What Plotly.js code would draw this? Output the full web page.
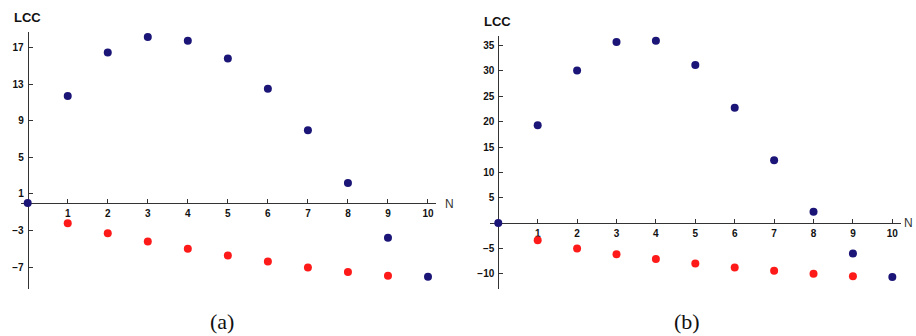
<!DOCTYPE html>
<html>
<head>
<meta charset="utf-8">
<script src="https://cdn.plot.ly/plotly-3.0.1.min.js"></script>
<style>
  html, body { margin: 0; padding: 0; background: #fff; }
  #chart { width: 916px; height: 336px; }
</style>
</head>
<body>
<div id="chart"></div>
<script>
// N values on the horizontal axis
const nAll = [0, 1, 2, 3, 4, 5, 6, 7, 8, 9, 10];
const nRed = [1, 2, 3, 4, 5, 6, 7, 8, 9];

// Panel (a) series
const blueA = [0, 11.7, 16.45, 18.15, 17.75, 15.8, 12.5, 7.95, 2.2, -3.8, -8.05];
const redA = [-2.2, -3.3, -4.2, -5.0, -5.75, -6.4, -7.05, -7.55, -7.95];

// Panel (b) series
const blueB = [0, 19.3, 30.1, 35.7, 35.95, 31.2, 22.75, 12.4, 2.25, -6.0, -10.65];
const redB = [-3.4, -5.0, -6.15, -7.1, -7.95, -8.75, -9.4, -10.0, -10.5];

// Tick labels
const xTicks = [1, 2, 3, 4, 5, 6, 7, 8, 9, 10];
const yTicksA = [17, 13, 9, 5, 1, -3, -7];
const yTicksB = [35, 30, 25, 20, 15, 10, 5, -5, -10];

const W = 916, H = 336;
const BLUE = '#1b1577';
const RED = '#ff1a1a';
const AXIS = '#333333';
const tickFont = { family: 'Liberation Sans, Arial, sans-serif', size: 10, color: '#111', weight: 'bold' };

function pts(x, y, color, xa, ya) {
  return {
    type: 'scatter', mode: 'markers', x: x, y: y, xaxis: xa, yaxis: ya,
    marker: { color: color, size: 8, line: { width: 0 } },
    cliponaxis: false, showlegend: false, hoverinfo: 'skip'
  };
}

// Horizontal axis drawn through y = 0 (posPx is its pixel row)
function xAxis(domain, range, posPx) {
  return {
    domain: domain, range: range, anchor: 'free', position: 1 - posPx / H,
    showgrid: false, zeroline: false, showline: true, linecolor: AXIS, linewidth: 1,
    tickmode: 'array', tickvals: xTicks, ticks: 'inside', ticklen: 4, tickcolor: AXIS, tickwidth: 1,
    tickfont: tickFont, ticklabelstandoff: 1, layer: 'below traces', fixedrange: true
  };
}

// Vertical axis drawn through x = 0 (posPx is its pixel column)
function yAxis(domain, range, posPx, ticks) {
  return {
    domain: domain, range: range, anchor: 'free', position: posPx / W,
    showgrid: false, zeroline: false, showline: true, linecolor: AXIS, linewidth: 1,
    tickmode: 'array', tickvals: ticks, ticks: 'inside', ticklen: 4, tickcolor: AXIS, tickwidth: 1,
    tickfont: tickFont, ticklabelstandoff: 2, layer: 'below traces', fixedrange: true
  };
}

const data = [
  pts(nRed, redA, RED, 'x', 'y'),
  pts(nAll, blueA, BLUE, 'x', 'y'),
  pts(nRed, redB, RED, 'x2', 'y2'),
  pts(nAll, blueB, BLUE, 'x2', 'y2')
];

const labelFont = { family: 'Liberation Sans, Arial, sans-serif', size: 13, color: '#111', weight: 'bold' };
const nFont = { family: 'Liberation Sans, Arial, sans-serif', size: 12, color: '#333' };
const capFont = { family: 'Liberation Serif, DejaVu Serif, serif', size: 22, color: '#111' };

function ann(text, xPx, yPx, font, xanchor) {
  return { text: text, xref: 'paper', yref: 'paper', x: xPx / W, y: 1 - yPx / H,
           xanchor: xanchor || 'center', yanchor: 'middle', showarrow: false, font: font };
}

const layout = {
  width: W, height: H,
  margin: { l: 0, r: 0, t: 0, b: 0 },
  paper_bgcolor: '#fff', plot_bgcolor: 'rgba(0,0,0,0)',
  xaxis: xAxis([20.9 / W, 436 / W], [-0.17, 10.2], 203),
  yaxis: yAxis([1 - 289 / H, 1 - 32 / H], [-9.4, 18.7], 27.7, yTicksA),
  xaxis2: xAxis([490.4 / W, 901.4 / W], [-0.2, 10.23], 223),
  yaxis2: yAxis([1 - 289 / H, 1 - 36 / H], [-13.0, 36.9], 498.3, yTicksB),
  annotations: [
    ann('LCC', 27, 17, labelFont),
    ann('N', 449, 204, nFont),
    ann('(a)', 222, 321, capFont),
    ann('LCC', 497, 21, labelFont),
    ann('N', 915, 223, nFont, 'right'),
    ann('(b)', 687, 321, capFont)
  ]
};

Plotly.newPlot('chart', data, layout, { staticPlot: true, displayModeBar: false });
</script>
</body>
</html>
